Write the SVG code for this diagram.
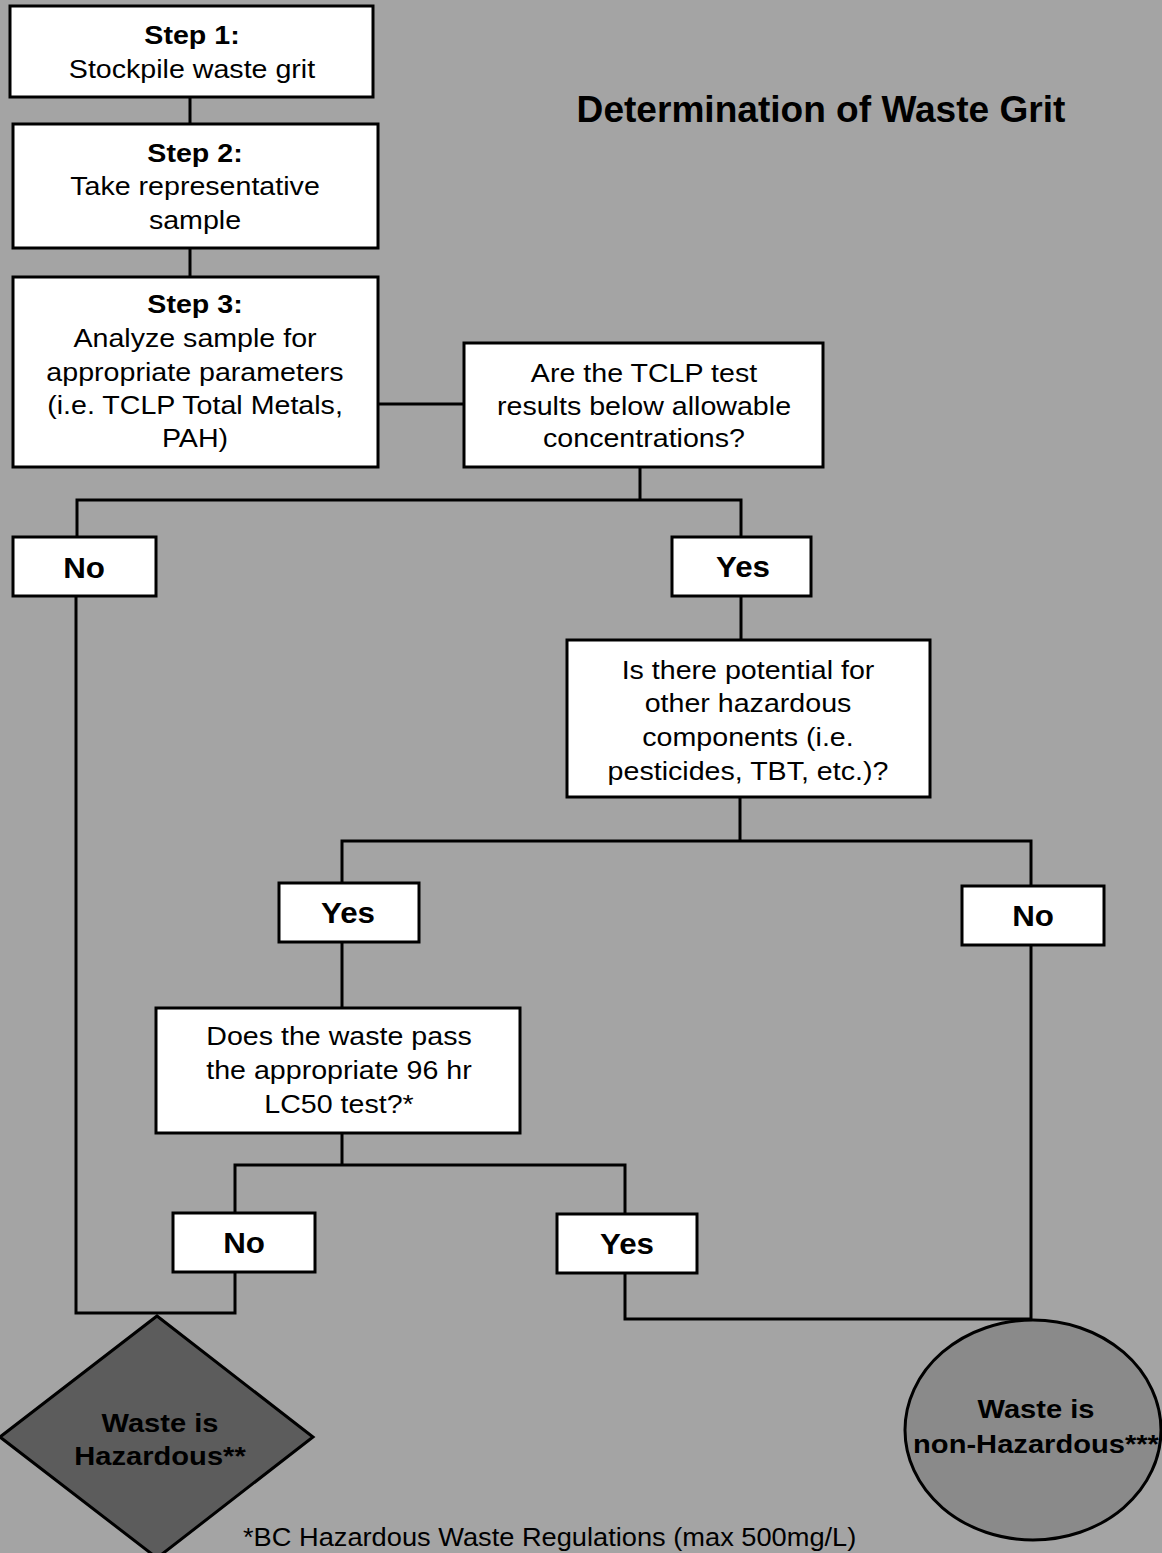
<svg xmlns="http://www.w3.org/2000/svg" width="1162" height="1553" viewBox="0 0 1162 1553">
<style>
.box{fill:#ffffff;stroke:#000000;stroke-width:3}
.t{font-family:"Liberation Sans",Arial,sans-serif;font-size:26px;fill:#000000;text-anchor:middle}
.b{font-weight:bold}
.lbl{font-family:"Liberation Sans",Arial,sans-serif;font-size:29px;font-weight:bold;fill:#000000;text-anchor:middle}
.end{font-family:"Liberation Sans",Arial,sans-serif;font-size:26px;font-weight:bold;fill:#000000;text-anchor:middle}
.conn{fill:none;stroke:#000000;stroke-width:3}
</style>
<rect x="0" y="0" width="1162" height="1553" fill="#a4a4a4"/>
<g id="title">
<text class="t b" transform="translate(821,0) scale(1.03,1)" x="0" y="122" style="font-size:36px">Determination of Waste Grit</text>
</g>
<g id="connectors" class="conn">
<path d="M190,97 V124"/>
<path d="M190,248 V277"/>
<path d="M378,404 H463"/>
<path d="M640,467 V500"/>
<path d="M77,536 V500 H741 V537"/>
<path d="M76,596 V1313 H235 V1273"/>
<path d="M741,596 V640"/>
<path d="M740,797 V841"/>
<path d="M342,883 V841 H1031 V886"/>
<path d="M342,942 V1008"/>
<path d="M342,1133 V1165"/>
<path d="M235,1213 V1165 H625 V1214"/>
<path d="M625,1273 V1319 H1031"/>
<path d="M1031,945 V1321"/>
</g>
<g id="step1">
<rect class="box" x="10" y="6" width="363" height="91"/>
<text class="t" transform="translate(192,0) scale(1.1,1)"><tspan class="b" x="0" y="44">Step 1:</tspan><tspan x="0" y="78">Stockpile waste grit</tspan></text>
</g>
<g id="step2">
<rect class="box" x="13" y="124" width="365" height="124"/>
<text class="t" transform="translate(195,0) scale(1.1,1)"><tspan class="b" x="0" y="162">Step 2:</tspan><tspan x="0" y="195">Take representative</tspan><tspan x="0" y="229">sample</tspan></text>
</g>
<g id="step3">
<rect class="box" x="13" y="277" width="365" height="190"/>
<text class="t" transform="translate(195,0) scale(1.1,1)"><tspan class="b" x="0" y="313">Step 3:</tspan><tspan x="0" y="347">Analyze sample for</tspan><tspan x="0" y="381">appropriate parameters</tspan><tspan x="0" y="414">(i.e. TCLP Total Metals,</tspan><tspan x="0" y="447">PAH)</tspan></text>
</g>
<g id="decision1">
<rect class="box" x="464" y="343" width="359" height="124"/>
<text class="t" transform="translate(644,0) scale(1.1,1)"><tspan x="0" y="382">Are the TCLP test</tspan><tspan x="0" y="415">results below allowable</tspan><tspan x="0" y="447">concentrations?</tspan></text>
</g>
<g id="no1">
<rect class="box" x="13" y="537" width="143" height="59"/>
<text class="lbl" transform="translate(84,0) scale(1.08,1)" x="0" y="578">No</text>
</g>
<g id="yes1">
<rect class="box" x="672" y="537" width="139" height="59"/>
<text class="lbl" transform="translate(743,0) scale(1.08,1)" x="0" y="577">Yes</text>
</g>
<g id="decision2">
<rect class="box" x="567" y="640" width="363" height="157"/>
<text class="t" transform="translate(748,0) scale(1.1,1)"><tspan x="0" y="679">Is there potential for</tspan><tspan x="0" y="712">other hazardous</tspan><tspan x="0" y="746">components (i.e.</tspan><tspan x="0" y="780">pesticides, TBT, etc.)?</tspan></text>
</g>
<g id="yes2">
<rect class="box" x="279" y="883" width="140" height="59"/>
<text class="lbl" transform="translate(348,0) scale(1.08,1)" x="0" y="923">Yes</text>
</g>
<g id="no2">
<rect class="box" x="962" y="886" width="142" height="59"/>
<text class="lbl" transform="translate(1033,0) scale(1.08,1)" x="0" y="926">No</text>
</g>
<g id="decision3">
<rect class="box" x="156" y="1008" width="364" height="125"/>
<text class="t" transform="translate(339,0) scale(1.1,1)"><tspan x="0" y="1045">Does the waste pass</tspan><tspan x="0" y="1079">the appropriate 96 hr</tspan><tspan x="0" y="1113">LC50 test?*</tspan></text>
</g>
<g id="no3">
<rect class="box" x="173" y="1213" width="142" height="59"/>
<text class="lbl" transform="translate(244,0) scale(1.08,1)" x="0" y="1253">No</text>
</g>
<g id="yes3">
<rect class="box" x="557" y="1214" width="140" height="59"/>
<text class="lbl" transform="translate(627,0) scale(1.08,1)" x="0" y="1254">Yes</text>
</g>
<g id="hazardous">
<polygon points="157,1316 313,1437 157,1558 0,1437" fill="#5c5c5c" stroke="#000000" stroke-width="3"/>
<text class="end" transform="translate(160,0) scale(1.12,1)"><tspan x="0" y="1432">Waste is</tspan><tspan x="0" y="1465">Hazardous**</tspan></text>
</g>
<g id="nonhazardous">
<ellipse cx="1033" cy="1430" rx="128" ry="110" fill="#8a8a8a" stroke="#000000" stroke-width="3"/>
<text class="end" transform="translate(1036,0) scale(1.12,1)"><tspan x="0" y="1418">Waste is</tspan><tspan x="0" y="1453">non-Hazardous***</tspan></text>
</g>
<g id="footnote">
<text class="t" transform="translate(243,0) scale(1.09,1)" x="0" y="1546" style="text-anchor:start;font-size:25px">*BC Hazardous Waste Regulations (max 500mg/L)</text>
</g>
</svg>
